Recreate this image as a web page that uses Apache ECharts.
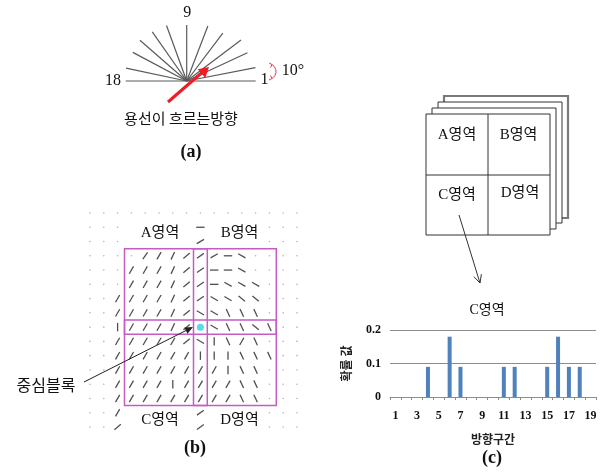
<!DOCTYPE html>
<html><head><meta charset="utf-8">
<script src="https://cdn.jsdelivr.net/npm/echarts@6/dist/echarts.min.js"></script>
<style>html,body{margin:0;padding:0;background:#fff}#c{width:607px;height:472px}</style>
</head><body><div id="c"></div>
<script>
// ---- (c) bar chart data ----
const categories = ['1','2','3','4','5','6','7','8','9','10','11','12','13','14','15','16','17','18','19'];
const probValues = [0,0,0,0.09,0,0.18,0.09,0,0,0,0.09,0.09,0,0,0.09,0.18,0.09,0.09,0];
const yTicks = [0, 0.1, 0.2];

// ---- (a) direction fan: angle (deg) and length ----
const fanAngles = [0,11,25,37,53,69,90,110,125,139,152,168,180];
const fanLengths = [69,70,67,68,60,59,56,59,60,62,61,62,61];

// ---- (b) direction field: angle in degrees, -1 = empty dot, null = nothing ----
const fieldAngles = [
  [-1,-1,-1,-1,-1,-1,-1,-1,-1,-1,-1,-1,-1,-1,-1,-1],
  [-1,-1,-1,null,null,null,null,null,0,null,null,null,null,-1,-1,-1],
  [-1,-1,-1,null,null,null,null,null,30,null,null,null,null,-1,-1,-1],
  [-1,-1,-1,-1,55,60,65,40,35,30,0,150,-1,-1,-1,-1],
  [-1,-1,-1,60,60,60,65,40,35,0,0,150,-1,-1,-1,-1],
  [-1,-1,-1,60,60,60,65,40,35,0,150,150,150,-1,-1,-1],
  [-1,-1,60,60,60,60,65,40,35,150,150,140,140,-1,-1,-1],
  [-1,-1,60,60,60,60,65,40,150,150,115,115,115,-1,-1,-1],
  [-1,-1,90,60,60,60,65,40,null,150,115,115,140,115,-1,-1],
  [-1,-1,60,60,60,60,60,40,150,90,115,60,115,-1,-1,-1],
  [-1,-1,60,60,60,60,60,60,90,90,90,115,115,115,-1,-1],
  [-1,-1,60,60,60,60,60,60,60,60,90,115,115,-1,-1,-1],
  [-1,-1,60,60,60,60,90,60,60,60,60,115,115,-1,-1,-1],
  [-1,-1,60,60,60,60,60,60,60,60,60,115,115,-1,-1,-1],
  [-1,-1,60,null,null,null,null,null,35,null,null,null,null,-1,-1,-1],
  [-1,-1,40,null,null,null,null,null,35,null,null,null,null,-1,-1,-1]
];
const centerBlock = [8, 8];
const regionBoxes = [[2.5,2.5,13.5,13.5],[7.5,2.5,8.5,13.5],[2.5,7.5,13.5,8.5]];

const fieldData = [];
fieldAngles.forEach((row, r) => row.forEach((a, c) => { if (a !== null) fieldData.push([c, r, a]); }));
const fanData = fanAngles.map((a, i) => [fanLengths[i], a]);

const SERIF = '"Liberation Serif","Noto Sans CJK KR",serif';
const KR = '"Noto Sans CJK KR","Liberation Serif",sans-serif';

function txt(text, x, y, size, opts) {
  opts = opts || {};
  return { type: 'text', z: 120, style: { text: text, x: x, y: y, align: 'center', verticalAlign: 'middle',
    fontSize: size, fontFamily: opts.family || SERIF, fontWeight: opts.bold ? 'bold' : 'normal', fill: opts.color || '#111' } };
}
function rect(x1, y1, x2, y2, stroke, lw, z) {
  return { type: 'rect', z: z, shape: { x: x1, y: y1, width: x2 - x1, height: y2 - y1 },
    style: { fill: '#fff', stroke: stroke, lineWidth: lw } };
}

const chart = echarts.init(document.getElementById('c'), null, { renderer: 'canvas' });
chart.setOption({
  backgroundColor: '#fff',
  animation: false,
  grid: [
    { left: 390, right: 11, top: 330, bottom: 75 },
    { left: 90, top: 213, width: 207, height: 214 }
  ],
  polar: { center: [186.7, 81], radius: 70 },
  angleAxis: { type: 'value', min: 0, max: 360, startAngle: 0, clockwise: false, show: false,
    axisLine: { show: false }, splitLine: { show: false }, axisLabel: { show: false }, axisTick: { show: false } },
  radiusAxis: { type: 'value', min: 0, max: 70, show: false,
    axisLine: { show: false }, splitLine: { show: false }, axisLabel: { show: false }, axisTick: { show: false } },
  xAxis: [
    { gridIndex: 0, type: 'category', data: categories,
      axisLine: { lineStyle: { color: '#8c8c8c' } },
      axisTick: { show: true, interval: 0, length: 3, lineStyle: { color: '#8c8c8c' } },
      axisLabel: { interval: 1, margin: 13, fontSize: 12, fontWeight: 'bold', fontFamily: SERIF, color: '#111' },
      name: '방향구간', nameLocation: 'middle', nameGap: 36,
      nameTextStyle: { fontSize: 12, fontWeight: 'bold', fontFamily: KR, color: '#222' } },
    { gridIndex: 1, type: 'value', min: 0, max: 15, show: false }
  ],
  yAxis: [
    { gridIndex: 0, type: 'value', min: yTicks[0], max: yTicks[yTicks.length - 1], interval: 0.1,
      axisLine: { show: false }, axisTick: { show: false },
      splitLine: { lineStyle: { color: '#8c8c8c', width: 1 } },
      axisLabel: { margin: 9, fontSize: 12, fontWeight: 'bold', fontFamily: SERIF, color: '#111',
        formatter: v => (Math.round(v * 10) / 10).toString() },
      name: '확률 값', nameLocation: 'middle', nameRotate: 90, nameGap: 38,
      nameTextStyle: { fontSize: 12, fontWeight: 'bold', fontFamily: KR, color: '#222' } },
    { gridIndex: 1, type: 'value', min: 0, max: 15, inverse: true, show: false }
  ],
  series: [
    { type: 'bar', xAxisIndex: 0, yAxisIndex: 0, data: probValues, barWidth: 4,
      itemStyle: { color: '#4f81bd' } },
    { type: 'custom', coordinateSystem: 'polar', data: fanData, z: 5,
      renderItem: function (params, api) {
        const p0 = api.coord([0, api.value(1)]);
        const p1 = api.coord([api.value(0), api.value(1)]);
        return { type: 'line', shape: { x1: p0[0], y1: p0[1], x2: p1[0], y2: p1[1] },
          style: { stroke: '#5a5a5a', lineWidth: 1.2 } };
      } },
    { type: 'custom', xAxisIndex: 1, yAxisIndex: 1, data: fieldData, z: 5,
      renderItem: function (params, api) {
        const p = api.coord([api.value(0), api.value(1)]);
        const a = api.value(2);
        if (a < 0) return { type: 'circle', shape: { cx: p[0], cy: p[1], r: 0.8 }, style: { fill: '#b4b4b4' } };
        const L = 4.2, rad = a * Math.PI / 180, dx = L * Math.cos(rad), dy = L * Math.sin(rad);
        return { type: 'line', shape: { x1: p[0] - dx, y1: p[1] + dy, x2: p[0] + dx, y2: p[1] - dy },
          style: { stroke: '#505050', lineWidth: 1.3 } };
      } },
    { type: 'custom', xAxisIndex: 1, yAxisIndex: 1, data: regionBoxes, z: 6,
      renderItem: function (params, api) {
        const a = api.coord([api.value(0), api.value(1)]);
        const b = api.coord([api.value(2), api.value(3)]);
        return { type: 'rect', shape: { x: a[0], y: a[1], width: b[0] - a[0], height: b[1] - a[1] },
          style: { fill: 'none', stroke: '#c45cc4', lineWidth: 1.5 } };
      } },
    { type: 'scatter', xAxisIndex: 1, yAxisIndex: 1, data: [centerBlock], symbolSize: 7, z: 7,
      itemStyle: { color: '#2ad4e0' } }
  ],
  graphic: [
    // (a)
    txt('9', 187.3, 13, 16),
    txt('18', 113, 81, 16),
    txt('1', 264.5, 80, 16),
    txt('10°', 293, 71, 16),
    { type: 'arc', z: 120, shape: { cx: 268, cy: 71.5, r: 8, startAngle: -Math.PI / 3, endAngle: Math.PI / 3 },
      style: { stroke: '#e0404a', lineWidth: 1, fill: 'none' } },
    { type: 'polyline', z: 120, shape: { points: [[269, 63], [272, 64.5], [270.5, 67.5]] }, style: { stroke: '#e0404a', lineWidth: 1, fill: 'none' } },
    { type: 'polyline', z: 120, shape: { points: [[270.5, 75.5], [272, 78.5], [269, 80]] }, style: { stroke: '#e0404a', lineWidth: 1, fill: 'none' } },
    { type: 'line', z: 120, shape: { x1: 168, y1: 102, x2: 202, y2: 72.5 }, style: { stroke: '#ee1c24', lineWidth: 3 } },
    { type: 'polygon', z: 120, shape: { points: [[209, 67], [205.3, 77.9], [197.7, 69.3]] }, style: { fill: '#ee1c24' } },
    txt('용선이 흐르는방향', 181, 118, 15, { family: KR }),
    txt('(a)', 191, 152, 18, { bold: true }),
    // (b)
    txt('A영역', 160, 233, 15),
    txt('B영역', 239.5, 233, 15),
    txt('C영역', 160, 420, 15),
    txt('D영역', 239.5, 420, 15),
    txt('중심블록', 46, 385, 16, { family: KR }),
    { type: 'line', z: 120, shape: { x1: 84, y1: 382, x2: 187, y2: 330 }, style: { stroke: '#222', lineWidth: 1 } },
    { type: 'polygon', z: 120, shape: { points: [[193, 327], [187.5, 333.7], [184.3, 327.5]] }, style: { fill: '#222' } },
    txt('(b)', 195, 448, 18, { bold: true }),
    // (c) stacked region boxes
    rect(444, 96, 568, 218, '#7a7a7a', 2.2, 101),
    rect(438, 102, 562, 223, '#333', 1, 102),
    rect(432, 108, 556, 229, '#333', 1, 103),
    rect(426, 114, 550, 235, '#333', 1, 104),
    { type: 'line', z: 105, shape: { x1: 488, y1: 114, x2: 488, y2: 235 }, style: { stroke: '#333', lineWidth: 1 } },
    { type: 'line', z: 105, shape: { x1: 426, y1: 175, x2: 550, y2: 175 }, style: { stroke: '#333', lineWidth: 1 } },
    txt('A영역', 457, 135, 15),
    txt('B영역', 518.5, 135, 15),
    txt('C영역', 457, 195, 15),
    txt('D영역', 520, 193.5, 15),
    { type: 'line', z: 120, shape: { x1: 459, y1: 215, x2: 480, y2: 283 }, style: { stroke: '#333', lineWidth: 1 } },
    { type: 'polyline', z: 120, shape: { points: [[481.4, 274.2], [480, 283], [473.8, 276.6]] }, style: { stroke: '#333', lineWidth: 1, fill: 'none' } },
    txt('C영역', 487, 310, 14),
    txt('(c)', 492, 458, 18, { bold: true })
  ]
});
</script></body></html>
